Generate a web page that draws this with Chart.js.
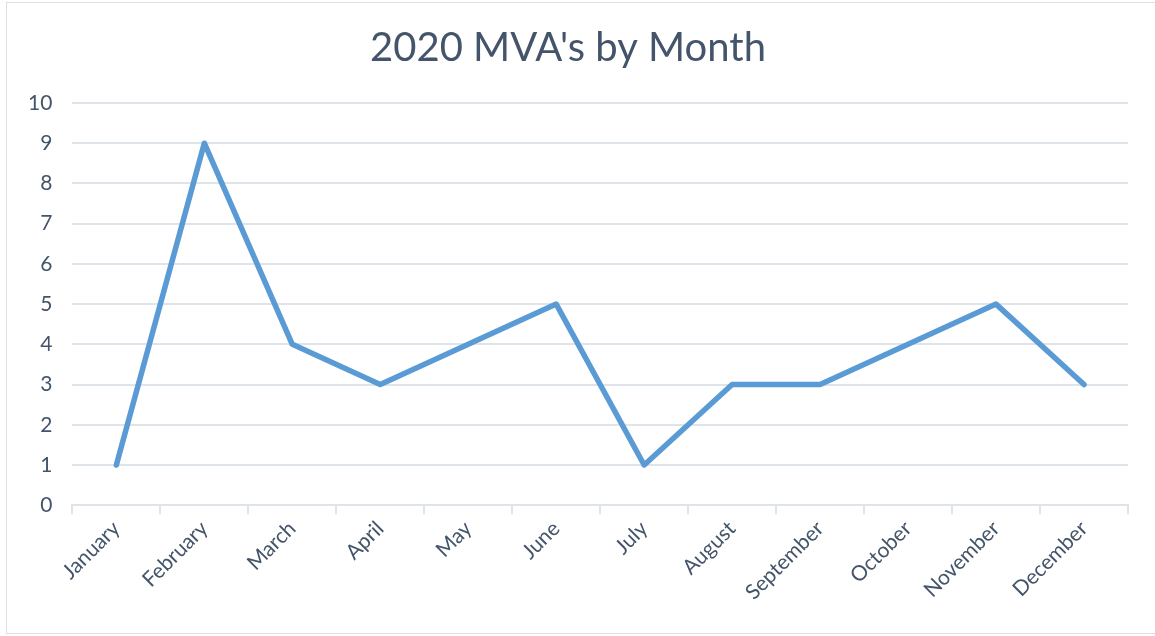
<!DOCTYPE html>
<html>
<head>
<meta charset="utf-8">
<script src="https://cdn.jsdelivr.net/npm/chart.js@4.4.0/dist/chart.umd.min.js"></script>
<style>
  html, body { margin: 0; padding: 0; background: #fff; overflow: hidden; }
  .frame {
    position: absolute; left: 6px; top: 2px;
    width: 1170px; height: 630px;
    border: 1.5px solid #dcdfe4;
  }
  canvas { position: absolute; left: 0; top: 0; }
</style>
</head>
<body>
<div class="frame"></div>
<canvas id="mvaChart" width="1155" height="636"></canvas>
<script>
const months = ['January', 'February', 'March', 'April', 'May', 'June',
                'July', 'August', 'September', 'October', 'November', 'December'];
const mvaCounts = [1, 9, 4, 3, 4, 5, 1, 3, 3, 4, 5, 3];
const yTicks = [0, 1, 2, 3, 4, 5, 6, 7, 8, 9, 10];

const textColor = '#44546a';
const gridColor = '#dfe3ea';
const fontFamily = 'Lato, "Open Sans", sans-serif';

const ctx = document.getElementById('mvaChart').getContext('2d');
new Chart(ctx, {
    type: 'line',
    data: {
        labels: months,
        datasets: [{
            label: "MVA's",
            data: mvaCounts,
            borderColor: '#5b9bd5',
            borderWidth: 5.5,
            borderCapStyle: 'round',
            borderJoinStyle: 'round',
            pointRadius: 0,
            fill: false,
            tension: 0
        }]
    },
    options: {
        responsive: false,
        animation: false,
        layout: { padding: { top: 20, left: 8, right: 27, bottom: 29 } },
        plugins: {
            legend: { display: false },
            tooltip: { enabled: false },
            title: {
                display: true,
                text: "2020 MVA's by Month",
                color: textColor,
                font: { family: fontFamily, size: 40, weight: 'normal' },
                padding: { top: 4, bottom: 31 }
            }
        },
        scales: {
            x: {
                offset: true,
                grid: {
                    offset: true,
                    drawOnChartArea: false,
                    drawTicks: true,
                    tickLength: 9,
                    color: gridColor,
                    lineWidth: 2
                },
                border: { display: true, color: gridColor, width: 2 },
                ticks: {
                    color: textColor,
                    font: { family: fontFamily, size: 21 },
                    minRotation: 45,
                    maxRotation: 45,
                    padding: 2
                }
            },
            y: {
                min: 0,
                max: 10,
                afterBuildTicks: axis => {
                    axis.ticks = yTicks.map(v => ({ value: v }));
                },
                grid: {
                    drawTicks: false,
                    color: gridColor,
                    lineWidth: 2
                },
                border: { display: false },
                ticks: {
                    color: textColor,
                    font: { family: fontFamily, size: 21 },
                    padding: 20
                }
            }
        }
    }
});
</script>
</body>
</html>
